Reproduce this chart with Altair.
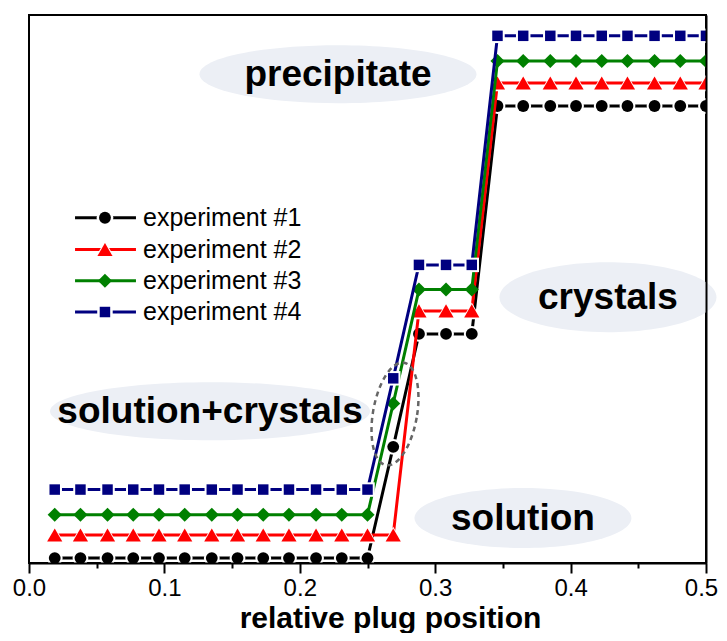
import altair as alt
import pandas as pd

# ---------------- data ----------------
positions = [0.019, 0.038, 0.058, 0.077, 0.096, 0.115, 0.135, 0.154, 0.173,
             0.192, 0.212, 0.231, 0.250, 0.269, 0.288, 0.308, 0.327, 0.346,
             0.365, 0.385, 0.404, 0.423, 0.442, 0.462, 0.481, 0.500]

exp1 = [0.9, 0.9, 0.9, 0.9, 0.9, 0.9, 0.9, 0.9, 0.9, 0.9, 0.9, 0.9, 0.9,
        21.2, 41.8, 41.8, 41.8,
        83.4, 83.4, 83.4, 83.4, 83.4, 83.4, 83.4, 83.4, 83.4]
exp2 = [5.1, 5.1, 5.1, 5.1, 5.1, 5.1, 5.1, 5.1, 5.1, 5.1, 5.1, 5.1, 5.1,
        5.1, 46.0, 46.0, 46.0,
        87.6, 87.6, 87.6, 87.6, 87.6, 87.6, 87.6, 87.6, 87.6]
exp3 = [8.8, 8.8, 8.8, 8.8, 8.8, 8.8, 8.8, 8.8, 8.8, 8.8, 8.8, 8.8, 8.8,
        29.1, 49.9, 49.9, 49.9,
        91.6, 91.6, 91.6, 91.6, 91.6, 91.6, 91.6, 91.6, 91.6]
exp4 = [13.4, 13.4, 13.4, 13.4, 13.4, 13.4, 13.4, 13.4, 13.4, 13.4, 13.4, 13.4, 13.4,
        33.7, 54.4, 54.4, 54.4,
        96.2, 96.2, 96.2, 96.2, 96.2, 96.2, 96.2, 96.2, 96.2]

series_names = ["experiment #1", "experiment #2", "experiment #3", "experiment #4"]
series_values = [exp1, exp2, exp3, exp4]
series_colors = ["#000000", "#ff0000", "#008000", "#000080"]
series_shapes = ["circle", "triangle-up", "diamond", "square"]
series_sizes = [140, 230, 200, 110]
series_halo = [True, True, False, True]

x_ticks = [0.0, 0.05, 0.1, 0.15, 0.2, 0.25, 0.3, 0.35, 0.4, 0.45, 0.5]

# legend layout (data coordinates)
legend_y = [63.0, 57.2, 51.5, 45.8]
legend_x_line = [0.034, 0.079]
legend_x_marker = 0.0561
legend_x_text = 0.0842

# region annotations
region_labels = ["precipitate", "crystals", "solution+crystals", "solution"]
region_x = [0.2282, 0.4276, 0.1337, 0.3648]
region_y = [89.2, 48.5, 27.7, 8.2]
region_w = [277, 217, 320, 217]
region_h = [58, 70, 58, 60]

# dashed ellipse around the transition points
mark_x, mark_y, mark_w, mark_h, mark_angle = 0.2703, 27.2, 44, 104, 10

# ---------------- helpers ----------------
K = 0.5523


def ellipse_path(rx, ry):
    a, b = rx * K, ry * K
    return (f"M {rx} 0 C {rx} {b} {a} {ry} 0 {ry} "
            f"C {-a} {ry} {-rx} {b} {-rx} 0 "
            f"C {-rx} {-b} {-a} {-ry} 0 {-ry} "
            f"C {a} {-ry} {rx} {-b} {rx} 0 Z")


xs = alt.Scale(domain=[0, 0.5], nice=False, zero=False)
ys = alt.Scale(domain=[0, 100], nice=False, zero=False)

major_test = "round(datum.value*20) % 2 == 0"
x_axis = alt.Axis(
    values=x_ticks,
    labelExpr=f"{major_test} ? format(datum.value, '.1f') : ''",
    tickSize={"condition": {"test": major_test, "value": 10}, "value": 5},
    tickColor="black", tickWidth=2,
    domainColor="black", domainWidth=2,
    labelFont="Liberation Sans", labelFontSize=24, labelColor="black",
    labelPadding=3, labelOverlap=False, labelFlush=False,
    labelOffset={"condition": {"test": "datum.value > 0.49", "value": -5}, "value": 0},
    title="relative plug position", titleFont="Liberation Sans",
    titleFontSize=30, titleFontWeight="bold", titleColor="black",
    titleX=361, titleY=64, titleAlign="center", titleBaseline="alphabetic",
    grid=False, zindex=1,
)
y_axis = alt.Axis(orient="right", labels=False, ticks=False, title=None,
                  domainColor="black", domainWidth=2, grid=False, zindex=1)

X = alt.X("x:Q", scale=xs, axis=x_axis)
Y = alt.Y("y:Q", scale=ys, axis=y_axis)

layers = []

# region ellipses
ell_df = pd.DataFrame({
    "x": region_x, "y": region_y,
    "path": [ellipse_path(1, h / w) for w, h in zip(region_w, region_h)],
    "sz": [w * w for w in region_w],
})
layers.append(
    alt.Chart(ell_df).mark_point(filled=True, fill="#eceff5", strokeWidth=0, opacity=1)
    .encode(x=X, y=Y, shape=alt.Shape("path:N", scale=None),
            size=alt.Size("sz:Q", scale=None))
)

# region texts
txt_df = pd.DataFrame({"x": region_x, "y": region_y, "label": region_labels})
layers.append(
    alt.Chart(txt_df).mark_text(font="Liberation Sans", fontWeight="bold", fontSize=37,
                                color="black", align="center", baseline="middle", dy=1)
    .encode(x=X, y=Y, text="label:N")
)

# data series
for name, vals, col, shp, sz, halo in zip(series_names, series_values, series_colors,
                                          series_shapes, series_sizes, series_halo):
    df = pd.DataFrame({"x": positions, "y": vals})
    layers.append(alt.Chart(df).mark_line(color=col, strokeWidth=3, clip=True)
                  .encode(x=X, y=Y, order="x:Q"))
    if halo:
        hs = (sz ** 0.5 + 4) ** 2
        layers.append(alt.Chart(df).mark_point(shape=shp, filled=True, color="white",
                                               size=hs, opacity=1, clip=True)
                      .encode(x=X, y=Y))
    layers.append(alt.Chart(df).mark_point(shape=shp, filled=True, color=col,
                                           size=sz, opacity=1, clip=True)
                  .encode(x=X, y=Y))

# dashed ellipse
dash_df = pd.DataFrame({"x": [mark_x], "y": [mark_y],
                        "path": [ellipse_path(mark_w / mark_h, 1)]})
layers.append(
    alt.Chart(dash_df).mark_point(filled=False, stroke="#666666", strokeWidth=2.5,
                                  strokeDash=[5, 4], opacity=1, size=mark_h * mark_h,
                                  angle=mark_angle)
    .encode(x=X, y=Y, shape=alt.Shape("path:N", scale=None))
)

# manual legend
for name, ly, col, shp, sz, halo in zip(series_names, legend_y, series_colors,
                                        series_shapes, series_sizes, series_halo):
    ldf = pd.DataFrame({"x": [legend_x_line[0]], "x2": [legend_x_line[1]], "y": [ly]})
    layers.append(alt.Chart(ldf).mark_rule(color=col, strokeWidth=3)
                  .encode(x=X, x2="x2:Q", y=Y))
    mdf = pd.DataFrame({"x": [legend_x_marker], "y": [ly]})
    if halo:
        hs = (sz ** 0.5 + 5) ** 2
        layers.append(alt.Chart(mdf).mark_point(shape=shp, filled=True, color="white",
                                                size=hs, opacity=1).encode(x=X, y=Y))
    layers.append(alt.Chart(mdf).mark_point(shape=shp, filled=True, color=col,
                                            size=sz, opacity=1).encode(x=X, y=Y))
    tdf = pd.DataFrame({"x": [legend_x_text], "y": [ly], "label": [name]})
    layers.append(alt.Chart(tdf).mark_text(font="Liberation Sans", fontSize=25,
                                           color="black", align="left", baseline="middle")
                  .encode(x=X, y=Y, text="label:N"))

chart = alt.layer(*layers).properties(
    width=677, height=548,
    autosize=alt.AutoSizeParams(type="none"),
    padding={"left": 21, "top": 7, "right": 13, "bottom": 70},
    background="white",
).configure_view(stroke="black", strokeWidth=2)

chart.save("out.html", embed_options={"renderer": "svg", "actions": False})
